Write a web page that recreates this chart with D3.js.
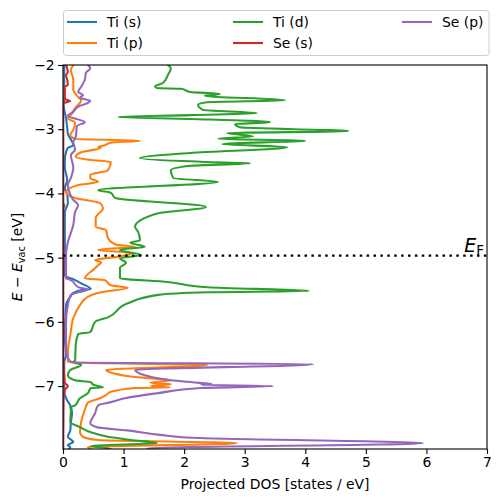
<!DOCTYPE html>
<html><head><meta charset="utf-8">
<script src="https://cdn.jsdelivr.net/npm/d3@7/dist/d3.min.js"></script>
<style>body{margin:0;background:#fff} text{font-family:"DejaVu Sans",sans-serif;fill:#000}</style>
</head><body><svg id="c" width="501" height="502"></svg>
<script>
// series: [energy (eV), projected DOS]
const seriesNames = ["Ti (s)", "Ti (p)", "Ti (d)", "Se (s)", "Se (p)"];
const seriesColors = ["#1f77b4", "#ff7f0e", "#2ca02c", "#d62728", "#9467bd"];

const tiS = [[-2.00,0.02],[-2.55,0.02],[-2.62,0.01],[-2.83,0.05],[-2.98,0.07],[-3.07,0.08],[-3.25,0.17],[-3.29,0.08],[-3.36,0.05],[-3.48,0.03],[-3.60,0.03],[-3.79,0.07],[-3.92,0.03],[-4.02,0.07],[-4.15,0.08],[-4.29,0.03],[-4.96,0.03],[-5.27,0.02],[-5.35,0.20],[-5.40,0.30],[-5.49,0.46],[-5.50,0.33],[-5.55,0.17],[-5.61,0.12],[-5.74,0.05],[-6.25,0.03],[-6.52,0.05],[-6.63,0.02],[-7.06,0.02],[-7.19,0.05],[-7.30,0.12],[-7.42,0.15],[-7.56,0.13],[-7.69,0.12],[-7.79,0.08],[-7.87,0.17],[-7.92,0.08],[-7.95,0.12],[-7.98,0.10]];

const tiP = [[-2.00,0.17],[-2.08,0.13],[-2.23,0.17],[-2.39,0.17],[-2.44,0.20],[-2.50,0.25],[-2.55,0.30],[-2.59,0.28],[-2.67,0.20],[-2.78,0.13],[-2.83,0.08],[-2.90,0.20],[-3.01,0.17],[-3.09,0.12],[-3.15,0.20],[-3.18,1.27],[-3.21,0.79],[-3.25,0.69],[-3.28,0.58],[-3.29,0.63],[-3.36,0.30],[-3.43,0.21],[-3.48,0.46],[-3.51,0.79],[-3.64,0.74],[-3.71,0.45],[-3.76,0.45],[-3.82,0.58],[-3.87,0.25],[-3.98,0.05],[-4.07,0.20],[-4.15,0.61],[-4.23,0.66],[-4.38,0.54],[-4.52,0.54],[-4.57,0.71],[-4.69,0.74],[-4.80,0.88],[-4.83,1.19],[-4.88,0.58],[-4.93,1.14],[-4.98,0.94],[-5.04,0.53],[-5.07,0.63],[-5.12,0.58],[-5.19,0.50],[-5.32,0.36],[-5.35,0.69],[-5.43,0.79],[-5.47,1.07],[-5.54,0.63],[-5.61,0.41],[-5.74,0.28],[-5.94,0.17],[-6.21,0.12],[-6.47,0.08],[-6.63,0.08],[-6.67,2.38],[-6.75,0.71],[-6.80,0.83],[-6.86,1.19],[-6.91,1.78],[-6.95,1.44],[-6.97,1.78],[-7.00,1.45],[-7.02,1.77],[-7.03,1.19],[-7.09,0.79],[-7.14,0.71],[-7.19,0.61],[-7.26,0.41],[-7.37,0.36],[-7.56,0.30],[-7.72,0.28],[-7.79,0.33],[-7.84,0.58],[-7.89,2.87],[-7.95,0.41],[-7.98,0.45]];

const tiD = [[-2.00,1.73],[-2.05,1.78],[-2.16,1.73],[-2.28,1.65],[-2.33,1.52],[-2.36,1.55],[-2.37,1.95],[-2.42,2.10],[-2.45,2.59],[-2.48,2.34],[-2.55,3.67],[-2.58,2.38],[-2.62,2.23],[-2.70,2.31],[-2.75,3.20],[-2.78,2.10],[-2.81,0.91],[-2.84,2.10],[-2.89,3.42],[-2.92,2.84],[-2.97,2.92],[-3.03,4.71],[-3.06,2.71],[-3.11,3.14],[-3.15,2.56],[-3.18,4.00],[-3.23,2.63],[-3.28,3.70],[-3.37,2.10],[-3.45,1.27],[-3.51,2.34],[-3.53,3.09],[-3.57,2.10],[-3.64,1.78],[-3.76,1.82],[-3.82,2.56],[-3.95,0.58],[-3.99,0.79],[-4.07,0.86],[-4.21,2.36],[-4.31,1.57],[-4.52,1.19],[-4.60,1.24],[-4.73,1.27],[-4.77,1.11],[-4.83,1.35],[-4.88,0.94],[-4.96,1.29],[-5.01,0.94],[-5.08,1.04],[-5.16,0.94],[-5.32,0.94],[-5.38,1.73],[-5.46,2.39],[-5.52,4.06],[-5.54,2.39],[-5.58,1.57],[-5.71,1.07],[-5.93,0.74],[-6.00,0.53],[-6.16,0.45],[-6.19,0.25],[-6.36,0.21],[-6.60,0.20],[-6.63,0.17],[-6.67,0.30],[-6.75,0.12],[-6.83,0.08],[-6.91,0.20],[-6.94,0.46],[-6.98,0.50],[-7.02,0.66],[-7.03,0.46],[-7.11,0.41],[-7.19,0.28],[-7.30,0.20],[-7.33,0.12],[-7.37,0.13],[-7.56,0.12],[-7.64,0.28],[-7.72,0.46],[-7.79,0.74],[-7.84,1.12],[-7.89,1.55],[-7.93,0.46],[-7.97,0.74],[-7.98,0.78]];

const seS = [[-2.00,0.05],[-2.11,0.08],[-2.16,0.05],[-2.23,0.07],[-2.31,0.08],[-2.34,0.03],[-2.53,0.03],[-2.56,0.12],[-2.58,0.05],[-2.61,0.005],[-4.15,0.005],[-4.18,0.02],[-4.26,0.005],[-6.52,0.005],[-6.83,0.02],[-6.95,0.03],[-7.00,0.08],[-7.06,0.03],[-7.22,0.01],[-7.98,0.005]];

const seP = [[-2.00,0.41],[-2.05,0.45],[-2.12,0.38],[-2.23,0.36],[-2.34,0.30],[-2.42,0.25],[-2.47,0.33],[-2.51,0.28],[-2.56,0.45],[-2.59,0.41],[-2.65,0.25],[-2.73,0.17],[-2.79,0.08],[-2.89,0.36],[-2.95,0.23],[-3.12,0.21],[-3.20,0.17],[-3.32,0.20],[-3.40,0.13],[-3.60,0.17],[-3.76,0.13],[-3.87,0.08],[-4.02,0.12],[-4.10,0.17],[-4.18,0.25],[-4.29,0.20],[-4.49,0.17],[-4.76,0.08],[-4.96,0.05],[-5.16,0.05],[-5.32,0.05],[-5.35,0.13],[-5.46,0.25],[-5.50,0.41],[-5.54,0.25],[-5.58,0.13],[-5.74,0.08],[-6.00,0.05],[-6.41,0.05],[-6.56,0.08],[-6.63,0.15],[-6.66,4.13],[-6.75,1.19],[-6.83,1.35],[-6.91,1.78],[-6.95,2.26],[-6.97,2.46],[-6.98,2.28],[-7.00,3.47],[-7.03,2.28],[-7.11,1.57],[-7.19,1.02],[-7.25,0.79],[-7.30,0.58],[-7.42,0.53],[-7.58,0.45],[-7.64,0.56],[-7.69,1.06],[-7.76,1.60],[-7.81,2.26],[-7.89,5.94],[-7.97,1.39],[-7.98,1.44]];

const seriesData = [tiS, tiP, tiD, seS, seP];
const xTicks = [0, 1, 2, 3, 4, 5, 6, 7];
const yTicks = [-7, -6, -5, -4, -3, -2];
const fermiLevel = -4.97;
const xDomain = [0, 7];
const yDomain = [-7.98, -2];

const L = 63, R = 487, T = 65, B = 449;
const svg = d3.select("#c");
const x = d3.scaleLinear().domain(xDomain).range([L, R]);
const y = d3.scaleLinear().domain(yDomain).range([B, T]);

svg.append("defs").append("clipPath").attr("id", "clip")
  .append("rect").attr("x", L).attr("y", T).attr("width", R - L).attr("height", B - T);

const line = d3.line().x(d => x(d[1])).y(d => y(d[0])).curve(d3.curveMonotoneY);
const g = svg.append("g").attr("clip-path", "url(#clip)");
seriesData.forEach((s, i) => {
  g.append("path").attr("d", line(s)).attr("fill", "none")
    .attr("stroke", seriesColors[i]).attr("stroke-width", 2.08)
    .attr("stroke-linejoin", "round").attr("stroke-linecap", "square");
});

// Fermi level
svg.append("line").attr("x1", L).attr("x2", R).attr("y1", y(fermiLevel)).attr("y2", y(fermiLevel))
  .attr("stroke", "#000").attr("stroke-width", 2.3).attr("stroke-dasharray", "2.5,4.4");

const ef = svg.append("text").attr("x", 484).attr("y", y(fermiLevel) - 4).attr("text-anchor", "end")
  .style("font-size", "19px");
ef.append("tspan").text("E").style("font-style", "italic");
ef.append("tspan").text("F").style("font-size", "13.5px").attr("dy", 3);

// axes
const xAxis = svg.append("g").attr("transform", `translate(0,${B})`)
  .call(d3.axisBottom(x).tickValues(xTicks).tickFormat(d3.format("d")).tickSizeOuter(0).tickSize(4.9).tickPadding(3.5));
const yAxis = svg.append("g").attr("transform", `translate(${L},0)`)
  .call(d3.axisLeft(y).tickValues(yTicks).tickFormat(d => d3.format("d")(d).replace("-", "\u2212")).tickSizeOuter(0).tickSize(4.9).tickPadding(3.5));
[xAxis, yAxis].forEach(a => {
  a.select(".domain").remove();
  a.selectAll("line").attr("stroke", "#000").attr("stroke-width", 1.1);
  a.selectAll("text").style("font-size", "13.9px").style("font-family", "DejaVu Sans");
});

svg.append("rect").attr("x", L).attr("y", T).attr("width", R - L).attr("height", B - T)
  .attr("fill", "none").attr("stroke", "#000").attr("stroke-width", 1.1);

svg.append("text").attr("x", (L + R) / 2).attr("y", 489).attr("text-anchor", "middle")
  .style("font-size", "13.9px").text("Projected DOS [states / eV]");

const yl = svg.append("text").attr("transform", `translate(22,${(T + B) / 2}) rotate(-90)`)
  .attr("text-anchor", "middle").style("font-size", "13.9px");
yl.append("tspan").text("E").style("font-style", "italic");
yl.append("tspan").text(" \u2212 ");
yl.append("tspan").text("E").style("font-style", "italic");
yl.append("tspan").text("vac").style("font-size", "9.7px").attr("dy", 2.5);
yl.append("tspan").text(" [eV]").attr("dy", -2.5);

// legend
const lg = svg.append("g");
lg.append("rect").attr("x", 63.5).attr("y", 10.5).attr("width", 425.5).attr("height", 45)
  .attr("rx", 3).attr("fill", "#fff").attr("fill-opacity", 0.8).attr("stroke", "#cccccc").attr("stroke-width", 1);
const colX = [67, 233, 402];
const rowY = [22, 43];
seriesNames.forEach((n, i) => {
  const c = Math.floor(i / 2), r = i % 2;
  lg.append("line").attr("x1", colX[c]).attr("x2", colX[c] + 30).attr("y1", rowY[r]).attr("y2", rowY[r])
    .attr("stroke", seriesColors[i]).attr("stroke-width", 2.08);
  lg.append("text").attr("x", colX[c] + 40).attr("y", rowY[r] + 5).style("font-size", "13.9px").text(n);
});
</script></body></html>
